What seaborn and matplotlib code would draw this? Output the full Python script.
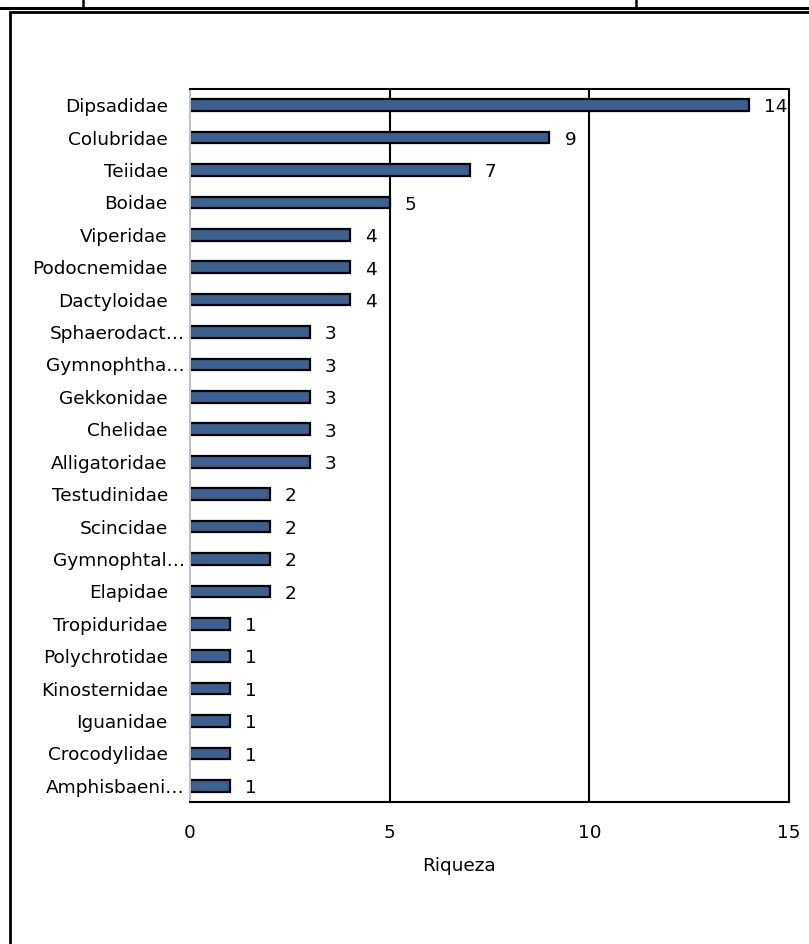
import matplotlib
matplotlib.use("Agg")
import matplotlib.pyplot as plt
import matplotlib.transforms as mtransforms
import seaborn as sns
import pandas as pd
from matplotlib.lines import Line2D

# richness per family (top to bottom as shown)
familias = ["Dipsadidae", "Colubridae", "Teiidae", "Boidae", "Viperidae",
            "Podocnemidae", "Dactyloidae", "Sphaerodact…", "Gymnophtha…",
            "Gekkonidae", "Chelidae", "Alligatoridae", "Testudinidae",
            "Scincidae", "Gymnophtal…", "Elapidae", "Tropiduridae",
            "Polychrotidae", "Kinosternidae", "Iguanidae", "Crocodylidae",
            "Amphisbaeni…"]
riqueza = [14, 9, 7, 5, 4, 4, 4, 3, 3, 3, 3, 3, 2, 2, 2, 2, 1, 1, 1, 1, 1, 1]
x_ticks = [0, 5, 10, 15]

df = pd.DataFrame({"familia": familias, "riqueza": riqueza})

sns.set_style("white")
plt.rcParams["font.family"] = ["DejaVu Sans"]
plt.rcParams["text.color"] = "black"
plt.rcParams["xtick.color"] = "black"
plt.rcParams["ytick.color"] = "black"
plt.rcParams["axes.labelcolor"] = "black"

fs = 13.3

fig = plt.figure(figsize=(8.09, 9.44), dpi=100)
ax = fig.add_axes([190 / 809, 142 / 944, 599 / 809, 713 / 944])

sns.barplot(data=df, x="riqueza", y="familia", orient="h", ax=ax,
            color="#3a6191", saturation=1, width=0.36,
            edgecolor="black", linewidth=1.6)

for i, v in enumerate(riqueza):
    ax.text(v + 0.38, i + 0.07, str(v), va="center", ha="left",
            fontsize=fs, color="black")

ax.set_xlim(0, 15)
ax.set_xticks(x_ticks)
ax.set_xticklabels([str(t) for t in x_ticks], fontsize=fs)
ax.tick_params(axis="x", length=0, pad=16)
ax.tick_params(axis="y", length=0, pad=16, labelsize=fs)
for t in x_ticks[1:3]:
    ax.axvline(t, color="black", linewidth=1.5, zorder=0)
ax.set_xlabel("Riqueza", fontsize=fs)
ax.xaxis.set_label_coords((459 - 190) / 599, -55 / 713)
ax.set_ylabel("")
for side in ["top", "right", "bottom"]:
    ax.spines[side].set_color("black")
    ax.spines[side].set_linewidth(1.5)
ax.spines["left"].set_color("#c0c0c0")
ax.spines["left"].set_linewidth(1.5)

# truncated names sit closer to the axis, as in the original
shift = mtransforms.ScaledTranslation(17 / 100, 0, fig.dpi_scale_trans)
for lab in ax.get_yticklabels():
    if lab.get_text().endswith("…"):
        lab.set_transform(lab.get_transform() + shift)

# page frame around the chart
def px(x, y):
    return x / 809, 1 - y / 944

for (x0, y0), (x1, y1), lw in [
        ((0, 7.5), (809, 7.5), 2.2),
        ((83, 0), (83, 7.5), 1.8),
        ((636, 0), (636, 7.5), 1.8),
        ((10, 12), (809, 12), 2.0),
        ((10, 12), (10, 944), 2.0)]:
    a, b = px(x0, y0)
    c, d = px(x1, y1)
    fig.add_artist(Line2D([a, c], [b, d], color="black", linewidth=lw,
                          transform=fig.transFigure))

fig.savefig("out.png", dpi=100)
